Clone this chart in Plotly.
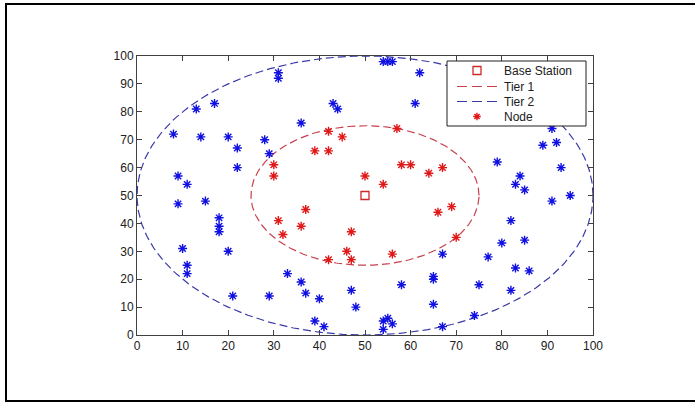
import numpy as np
import plotly.graph_objects as go

# Base station
bs_x = [50]
bs_y = [50]

# Tier radii (centered on base station)
tier1_r = 25
tier2_r = 50

# Nodes inside tier 1 (red)
red_x = [30, 30, 31, 32, 36, 37, 39, 42, 42, 45, 47, 46, 47, 42, 50, 54, 56, 57, 58, 60, 64, 67, 66, 69, 70]
red_y = [61, 57, 41, 36, 39, 45, 66, 66, 73, 71, 37, 30, 27, 27, 57, 54, 29, 74, 61, 61, 58, 60, 44, 46, 35]

# Nodes outside tier 1 (blue)
blue_x = [8, 9, 9, 11, 10, 11, 11, 13, 17, 14, 15, 18, 18, 18, 20, 20, 22, 22, 21, 28, 29, 29,
          31, 31, 33, 36, 36, 37, 40, 39, 41, 43, 44, 47, 48, 54, 55, 56, 54, 55, 54, 56,
          62, 61, 58, 65, 65, 65, 67, 67, 74, 75, 77, 79, 80, 82, 82, 83, 84, 85, 85, 83,
          86, 89, 91, 92, 93, 91, 95]
blue_y = [72, 57, 47, 54, 31, 25, 22, 81, 83, 71, 48, 42, 39, 37, 30, 71, 67, 60, 14, 70, 65, 14,
          94, 92, 22, 76, 19, 15, 13, 5, 3, 83, 81, 16, 10, 98, 98, 98, 5, 6, 2, 4,
          94, 83, 18, 21, 20, 11, 29, 3, 7, 18, 28, 62, 33, 41, 16, 54, 57, 52, 34, 24,
          23, 68, 74, 69, 60, 48, 50]

ticks = list(range(0, 101, 10))
legend_labels = ["Base Station", "Tier 1", "Tier 2", "Node"]

RED_PT = "#e01818"
BLUE_PT = "#1010e0"
RED_LINE = "#c8404e"
BLUE_LINE = "#3a3aa8"
BS_COL = "#d02828"

W, H = 695, 403
L, R, T, B = 137, 102, 56, 68
PW, PH = W - L - R, H - T - B


def px(xp):
    return (xp - L) / PW


def py(yp):
    return (H - B - yp) / PH


theta = np.linspace(0, 2 * np.pi, 400)
c1x = bs_x[0] + tier1_r * np.cos(theta)
c1y = bs_y[0] + tier1_r * np.sin(theta)
c2x = bs_x[0] + tier2_r * np.cos(theta)
c2y = bs_y[0] + tier2_r * np.sin(theta)

fig = go.Figure()
fig.add_trace(go.Scatter(x=c1x, y=c1y, mode="lines", name=legend_labels[1],
                         line=dict(color=RED_LINE, width=1.2, dash="8px,4px")))
fig.add_trace(go.Scatter(x=c2x, y=c2y, mode="lines", name=legend_labels[2],
                         line=dict(color=BLUE_LINE, width=1.2, dash="8px,4px")))
fig.add_trace(go.Scatter(x=bs_x, y=bs_y, mode="markers", name=legend_labels[0],
                         marker=dict(symbol="square-open", size=8, color=BS_COL,
                                     line=dict(width=1.3, color=BS_COL))))
fig.add_trace(go.Scatter(x=red_x, y=red_y, mode="markers", name=legend_labels[3],
                         marker=dict(symbol="asterisk-open", size=7.5, color=RED_PT,
                                     line=dict(width=1.4, color=RED_PT))))
fig.add_trace(go.Scatter(x=blue_x, y=blue_y, mode="markers", name="Node (outer)",
                         marker=dict(symbol="asterisk-open", size=7.5, color=BLUE_PT,
                                     line=dict(width=1.4, color=BLUE_PT))))

axis_common = dict(range=[0, 100], tickvals=ticks, ticks="inside", ticklen=5,
                   tickcolor="#404040", showline=True, linecolor="#404040", linewidth=1,
                   mirror="ticks", showgrid=False, zeroline=False,
                   tickfont=dict(family="Liberation Sans, Arial", size=12, color="#202020"))

# ---- manual MATLAB-style legend (pixel layout converted to paper coords) ----
lg_x0, lg_x1, lg_y0, lg_y1 = 447, 586, 61, 126
rows = [70.5, 86.5, 101.5, 116.5]
sym_cx = 477
line_x0, line_x1 = 457, 499
text_x = 502

shapes = [
    # outer picture frame (right edge lies outside the visible window)
    dict(type="rect", xref="paper", yref="paper",
         x0=px(6), x1=px(702), y0=py(401), y1=py(4),
         line=dict(color="black", width=2), layer="below"),
    # legend box
    dict(type="rect", xref="paper", yref="paper",
         x0=px(lg_x0), x1=px(lg_x1), y0=py(lg_y1), y1=py(lg_y0),
         fillcolor="white", line=dict(color="#202020", width=1), layer="above"),
    # base station symbol
    dict(type="rect", xref="paper", yref="paper",
         x0=px(sym_cx - 4), x1=px(sym_cx + 4), y0=py(rows[0] + 4), y1=py(rows[0] - 4),
         line=dict(color=BS_COL, width=1.3), layer="above"),
    # tier lines
    dict(type="line", xref="paper", yref="paper",
         x0=px(line_x0), x1=px(line_x1), y0=py(rows[1]), y1=py(rows[1]),
         line=dict(color=RED_LINE, width=1.2, dash="10px,5px"), layer="above"),
    dict(type="line", xref="paper", yref="paper",
         x0=px(line_x0), x1=px(line_x1), y0=py(rows[2]), y1=py(rows[2]),
         line=dict(color=BLUE_LINE, width=1.2, dash="10px,5px"), layer="above"),
]
# node asterisk symbol
cy = rows[3]
a, d = 3.8, 2.6
star = (f"M {px(sym_cx - a)},{py(cy)} L {px(sym_cx + a)},{py(cy)} "
        f"M {px(sym_cx)},{py(cy - a)} L {px(sym_cx)},{py(cy + a)} "
        f"M {px(sym_cx - d)},{py(cy - d)} L {px(sym_cx + d)},{py(cy + d)} "
        f"M {px(sym_cx - d)},{py(cy + d)} L {px(sym_cx + d)},{py(cy - d)}")
shapes.append(dict(type="path", xref="paper", yref="paper", path=star,
                   line=dict(color=RED_PT, width=1.4), layer="above"))

annotations = [
    dict(xref="paper", yref="paper", x=px(text_x), y=py(r), text=t,
         xanchor="left", yanchor="middle", showarrow=False,
         font=dict(family="Liberation Sans, Arial", size=12, color="#202020"))
    for t, r in zip(legend_labels, rows)
]

fig.update_layout(
    width=W, height=H,
    margin=dict(l=L, r=R, t=T, b=B),
    paper_bgcolor="white", plot_bgcolor="white",
    xaxis=axis_common, yaxis=axis_common,
    showlegend=False,
    shapes=shapes,
    annotations=annotations,
)

fig.write_html("out.html", config={"displayModeBar": False},
               post_script="document.body.style.margin='0px';")
